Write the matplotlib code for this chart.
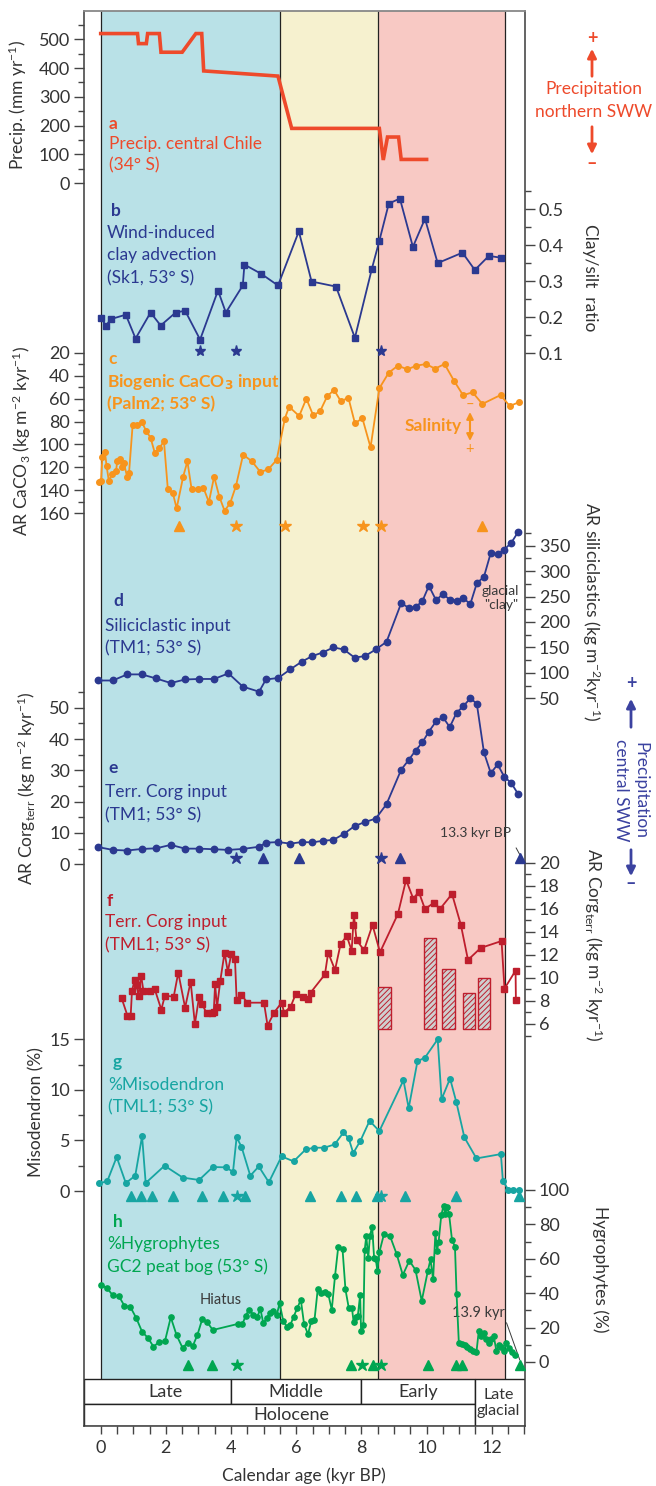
import numpy as np
import matplotlib
matplotlib.use("Agg")
import matplotlib.pyplot as plt
from matplotlib.patches import Rectangle

plt.rcParams['font.family'] = ['Lato', 'DejaVu Sans']
plt.rcParams['mathtext.default'] = 'regular'
plt.rcParams['hatch.linewidth'] = 0.7

# ---------------- data (ages in kyr BP) ----------------
# a  precipitation central Chile
a_age = [0.0, 1.13, 1.16, 1.40, 1.44, 1.80, 1.85, 2.50, 2.92, 3.10, 3.16, 5.44, 5.86,
         8.55, 8.67, 8.80, 9.14, 9.22, 10.0]
a_precip = [520, 520, 485, 485, 520, 520, 455, 455, 520, 520, 390, 372, 190,
            190, 80, 160, 160, 82, 82]

# b  clay/silt ratio Sk1
b_age = [0.0, 0.16, 0.32, 0.77, 1.07, 1.53, 1.84, 2.30, 2.59, 3.05, 3.60, 3.84, 4.36, 4.41,
         4.93, 5.44, 6.08, 6.47, 7.22, 7.80, 8.32, 8.55, 8.84, 9.18, 9.58, 9.95, 10.34,
         11.10, 11.48, 11.91, 12.28]
b_ratio = [0.199, 0.177, 0.195, 0.207, 0.141, 0.213, 0.177, 0.213, 0.218, 0.138, 0.274,
           0.213, 0.288, 0.346, 0.320, 0.288, 0.438, 0.299, 0.285, 0.143, 0.334, 0.412,
           0.515, 0.529, 0.395, 0.473, 0.350, 0.379, 0.331, 0.370, 0.365]
b_star_age = [3.05, 4.15, 8.59]

# c  biogenic CaCO3 Palm2
c_age = [-0.06, 0.01, 0.05, 0.13, 0.18, 0.25, 0.34, 0.47, 0.51, 0.59, 0.65, 0.71, 0.81,
         0.87, 0.98, 1.12, 1.27, 1.39, 1.53, 1.66, 1.80, 1.94, 2.06, 2.21, 2.33, 2.53,
         2.66, 2.79, 2.99, 3.15, 3.32, 3.48, 3.64, 3.80, 3.97, 4.15, 4.37, 4.64, 4.90,
         5.14, 5.40, 5.65, 5.78, 6.09, 6.31, 6.52, 6.73, 6.95, 7.16, 7.37, 7.60, 7.80,
         8.03, 8.28, 8.55, 8.84, 9.12, 9.41, 9.69, 9.98, 10.26, 10.55, 10.84, 11.12,
         11.41, 11.71, 12.27, 12.55, 12.83]
c_caco3 = [132.5, 131.9, 110.9, 106.6, 118.5, 131.9, 126, 123.1, 114.2, 112.4, 119.9,
           115.9, 128.1, 124.6, 83, 83, 80.7, 88, 94.1, 107.4, 103.4, 97, 139.1, 142,
           155.7, 128.1, 114.7, 139.1, 139.1, 137.7, 150.2, 128.1, 145.5, 157.7, 151.3,
           136.2, 108.9, 114.7, 124, 121.7, 113.5, 77.5, 67.1, 75.2, 60.1, 74.6, 71.1,
           58, 52.5, 62.4, 59.2, 81.5, 77.2, 102.5, 51, 37.4, 31.3, 34.5, 31.3, 29.9,
           33.9, 29.9, 44.4, 57.1, 54.5, 64.7, 56.9, 66.5, 63.2]
c_tri_age = [2.40, 11.69]
c_star_age = [4.15, 5.65, 8.06, 8.59]

# d, e  TM1 siliciclastics and terrestrial Corg
tm1_age = [-0.08, 0.37, 0.81, 1.26, 1.70, 2.15, 2.59, 3.02, 3.48, 3.92, 4.36, 4.86, 5.07,
           5.45, 5.82, 6.17, 6.49, 6.81, 7.14, 7.46, 7.79, 8.11, 8.44, 8.77, 9.22, 9.45,
           9.66, 9.87, 10.07, 10.29, 10.50, 10.71, 10.92, 11.13, 11.34, 11.54, 11.76,
           11.97, 12.18, 12.38, 12.60, 12.81]
d_silic = [85, 85, 97, 97, 89, 80, 87, 88, 88, 99, 73, 63, 87, 90, 107, 122, 133, 140,
           150, 146, 130, 133, 146, 161, 237, 228, 229, 241, 271, 243, 255, 244, 242,
           247, 235, 276, 289, 336, 333, 342, 356, 377]
e_corg = [5.5, 4.6, 4.4, 4.9, 5.1, 6.2, 5.0, 5.0, 4.8, 4.6, 4.9, 5.6, 6.9, 7.1, 6.6,
          7.1, 7.0, 7.5, 7.8, 9.7, 12.2, 13.5, 14.6, 19.2, 30.2, 33.3, 36.3, 38.9, 42.4,
          45.6, 47.0, 43.8, 48.4, 50.5, 53.0, 51.3, 35.7, 29.1, 31.9, 28.0, 25.9, 22.4]
e_star_age = [4.15, 8.59]
e_tri_age = [4.97, 6.08, 9.18, 12.88]

# f  TML1 terrestrial Corg
f_age = [0.64, 0.82, 0.92, 0.96, 1.04, 1.10, 1.16, 1.24, 1.31, 1.51, 1.66, 1.86, 1.97,
         2.24, 2.38, 2.59, 2.76, 2.89, 3.02, 3.11, 3.25, 3.41, 3.47, 3.51, 3.57, 3.67,
         3.80, 3.90, 4.01, 4.12, 4.17, 4.32, 4.50, 5.01, 5.12, 5.32, 5.55, 5.63, 5.83,
         5.98, 6.21, 6.37, 6.44, 6.88, 6.98, 7.19, 7.36, 7.55, 7.70, 7.75, 7.77, 7.85,
         8.08, 8.34, 8.57, 9.12, 9.37, 9.59, 9.76, 9.95, 10.23, 10.41, 10.78, 11.05,
         11.27, 11.66, 12.30, 12.39, 12.73, 12.74]
f_corg = [8.26, 6.73, 6.73, 8.87, 9.82, 9.36, 8.46, 10.2, 8.90, 8.87, 9.0, 7.25, 8.46,
          8.37, 10.46, 7.42, 9.67, 6.0, 8.37, 7.74, 6.93, 6.93, 7.07, 9.47, 7.45, 9.76,
          12.19, 10.54, 12.1, 11.67, 8.11, 8.52, 7.85, 7.85, 5.86, 6.99, 7.85, 6.99,
          7.51, 8.58, 8.32, 8.2, 8.72, 10.3, 12.19, 10.69, 12.92, 13.64, 12.37, 14.6,
          15.46, 13.3, 12.40, 14.6, 12.22, 15.55, 18.5, 16.88, 17.46, 15.98, 16.53,
          15.98, 17.28, 14.62, 11.56, 12.6, 13.2, 9.07, 10.63, 8.11]
f_bar_age = [8.71, 10.10, 10.67, 11.31, 11.77]
f_bar_top = [9.19, 13.44, 10.75, 8.67, 9.97]
f_bar_base = 5.6

# g  %Misodendron TML1
g_age = [-0.06, 0.20, 0.49, 0.77, 1.06, 1.27, 1.38, 1.96, 2.52, 3.02, 3.44, 3.83, 4.06,
         4.17, 4.32, 4.59, 4.85, 5.16, 5.55, 5.92, 6.29, 6.56, 6.86, 7.18, 7.45, 7.61,
         7.75, 7.97, 8.25, 8.55, 9.29, 9.45, 9.72, 9.95, 10.34, 10.46, 10.72, 10.91,
         11.16, 11.53, 12.28, 12.34, 12.51, 12.66, 12.83]
g_miso = [0.76, 0.95, 3.36, 0.79, 1.51, 5.43, 0.79, 2.5, 1.32, 1.09, 2.37, 2.34, 1.91,
          5.30, 4.38, 1.51, 2.43, 0.86, 3.42, 2.93, 4.11, 4.28, 4.28, 4.61, 5.79, 5.20,
          3.75, 4.97, 6.94, 5.92, 10.95, 8.19, 12.83, 13.19, 15.0, 9.08, 11.12, 8.82,
          5.30, 3.22, 3.65, 1.02, 0.1, 0.1, 0.1]
g_tri_age = [0.92, 1.23, 1.57, 2.21, 3.12, 3.74, 4.44, 6.42, 7.36, 7.83, 8.48, 9.34,
             10.91, 12.84]
g_star_age = [4.17, 8.60]

# h  %Hygrophytes GC2
h_age = [0.01, 0.20, 0.37, 0.56, 0.73, 0.91, 1.09, 1.27, 1.45, 1.62, 1.79, 1.97, 2.15,
         2.33, 2.51, 2.67, 2.83, 2.97, 3.12, 3.27, 3.44, 4.20, 4.35, 4.45, 4.55, 4.68,
         4.80, 4.90, 4.99, 5.09, 5.19, 5.30, 5.40, 5.49, 5.60, 5.71, 5.82, 5.92, 6.03,
         6.14, 6.24, 6.36, 6.46, 6.56, 6.66, 6.77, 6.87, 6.98, 7.09, 7.19, 7.29, 7.42,
         7.51, 7.61, 7.71, 7.76, 7.83, 7.89, 7.96, 7.99, 8.06, 8.10, 8.15, 8.21, 8.26,
         8.33, 8.39, 8.44, 8.49, 8.55, 8.69, 8.88, 9.08, 9.27, 9.47, 9.66, 9.85, 10.04,
         10.12, 10.20, 10.27, 10.32, 10.37, 10.45, 10.52, 10.57, 10.63, 10.69, 10.78,
         10.87, 10.92, 10.99, 11.08, 11.17, 11.24, 11.33, 11.42, 11.53, 11.60, 11.68,
         11.76, 11.83, 11.91, 11.99, 12.06, 12.14, 12.22, 12.29, 12.37, 12.45, 12.52,
         12.61, 12.71]
h_hygro = [45.0, 42.8, 38.8, 38.2, 32.6, 32.0, 25.6, 17.6, 14.0, 8.9, 11.6, 12.0, 26.0,
           15.5, 8.3, 11.2, 9.5, 15.9, 25.2, 23.1, 18.6, 22.1, 22.1, 26.9, 30.4, 27.5,
           26.0, 30.8, 22.5, 25.4, 28.3, 29.8, 27.3, 34.1, 24.0, 20.5, 21.5, 26.4, 31.2,
           36.2, 22.1, 16.1, 23.6, 24.4, 42.4, 39.9, 40.7, 39.7, 30.4, 50.0, 67.1, 65.7,
           42.2, 31.6, 31.2, 23.4, 26.4, 26.9, 39.0, 18.0, 21.5, 65.1, 73.3, 60.3, 73.3,
           78.7, 60.3, 59.7, 53.1, 63.8, 74.2, 73.1, 62.8, 50.6, 58.9, 53.5, 35.5, 53.1,
           59.7, 48.1, 75.2, 64.7, 70.0, 85.3, 90.9, 86.2, 89.9, 85.9, 70.9, 67.1, 39.5,
           10.9, 10.3, 9.7, 8.9, 7.6, 6.4, 5.8, 18.0, 15.1, 16.7, 13.6, 10.9, 13.6, 15.1,
           6.6, 9.7, 8.9, 6.6, 10.9, 7.9, 6.0, 4.1]
h_tri_age = [2.67, 3.43, 7.68, 8.35, 10.04, 10.91, 11.09, 12.86]
h_star_age = [4.17, 8.03, 8.60]

# climate zones and chronology boxes
zone_start = [0.0, 5.5, 8.5]
zone_end = [5.5, 8.5, 12.4]
zone_colors = ['#b9e1e7', '#f6f1cf', '#f8c9c4']
epoch_names = ['Late', 'Middle', 'Early']
epoch_edges = [4.0, 8.0, 11.5]

# ---------------- layout (pixels of the 656x1486 image) ----------------
W, H = 656, 1486
TOP, BOT, LEFT, RIGHT = 11, 1426, 84, 525
X0, PXK = 100.7, 32.59
XLIM = ((LEFT - X0) / PXK, (RIGHT - X0) / PXK)
POS = [LEFT / W, 1 - BOT / H, (RIGHT - LEFT) / W, (BOT - TOP) / H]

TXT = '#333333'
FS = 12.5
fig = plt.figure(figsize=(W / 100, H / 100), dpi=100)

main = fig.add_axes(POS)
main.set_xlim(XLIM)
main.set_ylim(BOT, TOP)
main.set_facecolor('none')
for s in ['left', 'right', 'bottom']:
    main.spines[s].set_color('#3a3a3a')
    main.spines[s].set_linewidth(1.1)
main.spines['top'].set_color('#888888')
main.spines['top'].set_linewidth(1.3)
main.set_yticks([])
main.set_xticks(np.arange(0, 13, 2))
main.set_xticks(np.arange(0, 13.01, 0.5), minor=True)
main.tick_params(axis='x', which='both', direction='out', length=6, width=1,
                 color='#444444', labelsize=13, labelcolor=TXT, pad=4)

# coloured climate zones
for x0, x1, c in zip(zone_start, zone_end, zone_colors):
    main.add_patch(Rectangle((x0, TOP), x1 - x0, 1379 - TOP, facecolor=c,
                             edgecolor='none', zorder=0))
main.vlines(zone_start + [zone_end[-1]], TOP, 1379, color='#222222', lw=0.9, zorder=1)

# chronology boxes
edges = [XLIM[0]] + epoch_edges
for i, name in enumerate(epoch_names):
    main.add_patch(Rectangle((edges[i], 1379), edges[i + 1] - edges[i], 25,
                             facecolor='white', edgecolor='#222222', lw=1, zorder=2))
    main.text((edges[i] + edges[i + 1]) / 2 + (0.25 if i == 0 else 0), 1392, name,
              ha='center', va='center', fontsize=13, color=TXT, zorder=3)
main.add_patch(Rectangle((XLIM[0], 1404), epoch_edges[-1] - XLIM[0], BOT - 1404,
                         facecolor='white', edgecolor='#222222', lw=1, zorder=2))
main.text(5.85, 1415, 'Holocene', ha='center', va='center', fontsize=13, color=TXT, zorder=3)
main.add_patch(Rectangle((epoch_edges[-1], 1379), XLIM[1] - epoch_edges[-1], BOT - 1379,
                         facecolor='white', edgecolor='#222222', lw=1, zorder=2))
main.text(12.2, 1403, 'Late\nglacial', ha='center', va='center', fontsize=11.5,
          color=TXT, linespacing=1.2, zorder=3)


def panel(v1, p1, v2, p2, side, major, minor, labels=None):
    ax = fig.add_axes(POS)
    ax.set_facecolor('none')
    for s in ax.spines.values():
        s.set_visible(False)
    k = (p2 - p1) / (v2 - v1)
    ax.set_ylim(v1 + (BOT - p1) / k, v1 + (TOP - p1) / k)
    ax.set_xlim(XLIM)
    ax.set_xticks([])
    ax.yaxis.set_ticks_position(side)
    ax.set_yticks(major, labels=labels)
    ax.set_yticks(minor, minor=True)
    ax.tick_params(axis='y', which='major', direction='out', length=7, width=1,
                   color='#444444', labelsize=13, labelcolor=TXT, pad=3)
    ax.tick_params(axis='y', which='minor', direction='out', length=4.5, width=1,
                   color='#444444')
    return ax


def txt(px, py, s, color, size=FS, bold=False, **kw):
    main.text((px - X0) / PXK, py, s, color=color, fontsize=size,
              fontweight='bold' if bold else 'normal', va='center', zorder=5, **kw)


def ftxt(px, py, s, color, size=FS, **kw):
    fig.text(px / W, 1 - py / H, s, color=color, fontsize=size, ha='center',
             va='center', **kw)


def farrow(px, py0, py1, color):
    fig.add_artist(matplotlib.patches.FancyArrowPatch(
        (px / W, 1 - py0 / H), (px / W, 1 - py1 / H), transform=fig.transFigure,
        arrowstyle='-|>', mutation_scale=13, color=color, lw=2))


RED, NAVY, ORANGE = '#ee4a2b', '#2b3990', '#f7941d'
DRED, TEAL, GREEN = '#be1e2d', '#17a5a2', '#00a651'

# a
ax_a = panel(0, 183, 500, 39.3, 'left', range(0, 501, 100), range(50, 551, 100))
ax_a.plot(a_age, a_precip, color=RED, lw=2.6, solid_joinstyle='miter')
txt(109, 124, 'a', RED, bold=True)
txt(109, 143.5, 'Precip. central Chile', RED)
txt(109, 165.5, '(34° S)', RED)

# b
ax_b = panel(0.1, 353.3, 0.5, 209, 'right', [0.1, 0.2, 0.3, 0.4, 0.5],
             [0.15, 0.25, 0.35, 0.45, 0.55], ['0.1', '0.2', '0.3', '0.4', '0.5'])
ax_b.plot(b_age, b_ratio, '-s', color=NAVY, ms=4.8, lw=1.3)
ax_b.plot(b_star_age, [0.106] * len(b_star_age), '*', color=NAVY, ms=8, ls='none')
txt(111, 211.5, 'b', NAVY, bold=True)
txt(107, 232.5, 'Wind-induced', NAVY)
txt(107, 255, 'clay advection', NAVY)
txt(107, 278, '(Sk1, 53° S)', NAVY)

# c
ax_c = panel(20, 352.7, 160, 513.3, 'left', range(20, 161, 20), range(30, 151, 20))
ax_c.plot(c_age, c_caco3, '-o', color=ORANGE, ms=4, lw=1.3)
ax_c.plot(c_tri_age, [171] * len(c_tri_age), '^', color=ORANGE, ms=7, ls='none')
ax_c.plot(c_star_age, [171] * len(c_star_age), '*', color=ORANGE, ms=9, ls='none')
txt(108, 359, 'c', ORANGE, bold=True)
txt(107, 381.5, 'Biogenic CaCO$_\\mathbf{3}$ input', ORANGE, bold=True)
txt(107, 404, '(Palm2; 53° S)', ORANGE, bold=True)
txt(433, 426, 'Salinity', ORANGE, bold=True, ha='center')
main.annotate('', xy=((470 - X0) / PXK, 412), xytext=((470 - X0) / PXK, 441),
              arrowprops=dict(arrowstyle='<|-|>', color=ORANGE, lw=1.5,
                              mutation_scale=10, shrinkA=0, shrinkB=0), zorder=5)
txt(470, 405, '–', ORANGE, size=10.5, ha='center')
txt(470, 449, '+', ORANGE, size=10.5, ha='center')

# d
ax_d = panel(50, 698.3, 350, 545.7, 'right', range(50, 351, 50), range(75, 376, 50))
ax_d.plot(tm1_age, d_silic, '-o', color=NAVY, ms=4.6, lw=1.3)
txt(113, 601, 'd', NAVY, bold=True)
txt(105, 626, 'Siliciclastic input', NAVY)
txt(105, 648, '(TM1; 53° S)', NAVY)
main.text((500.7 - X0) / PXK, 598, 'glacial\n"clay"', ha='center', va='center',
          fontsize=10, color='#3a3a3a', linespacing=1.15, zorder=5)

# e
ax_e = panel(0, 864.3, 50, 707.7, 'left', range(0, 51, 10), range(5, 56, 10))
ax_e.plot(tm1_age, e_corg, '-o', color=NAVY, ms=4.6, lw=1.3)
ax_e.plot(e_star_age, [2.1] * len(e_star_age), '*', color=NAVY, ms=9, ls='none',
          clip_on=False)
ax_e.plot(e_tri_age, [2.1] * len(e_tri_age), '^', color=NAVY, ms=7, ls='none',
          clip_on=False)
txt(108, 768, 'e', NAVY, bold=True)
txt(105, 792.5, 'Terr. Corg input', NAVY)
txt(105, 815, '(TM1; 53° S)', NAVY)
main.annotate('13.3 kyr BP', xy=((520 - X0) / PXK, 855), xytext=((476 - X0) / PXK, 833),
              ha='center', va='center', fontsize=10, color='#3a3a3a', zorder=5,
              arrowprops=dict(arrowstyle='-', color='#3a3a3a', lw=0.7,
                              shrinkA=5, shrinkB=0,
                              relpos=(0.95, 0.5)))

# f
ax_f = panel(6, 1024, 18, 885.7, 'right', range(6, 21, 2), range(5, 20, 2))
ax_f.bar(f_bar_age, np.array(f_bar_top) - f_bar_base, bottom=f_bar_base, width=0.38,
         facecolor='#cfcfcf', edgecolor=DRED, hatch='//////', lw=1, zorder=2)
ax_f.plot(f_age, f_corg, '-s', color=DRED, ms=4.6, lw=1.3, zorder=3)
txt(107, 901.5, 'f', DRED, bold=True)
txt(105, 922.5, 'Terr. Corg input', DRED)
txt(105, 945, '(TML1; 53° S)', DRED)

# g
ax_g = panel(0, 1191, 15, 1039.3, 'left', [0, 5, 10, 15], [2.5, 7.5, 12.5])
ax_g.plot(g_age, g_miso, '-o', color=TEAL, ms=4, lw=1.3)
ax_g.plot(g_tri_age, [-0.46] * len(g_tri_age), '^', color=TEAL, ms=7, ls='none',
          clip_on=False)
ax_g.plot(g_star_age, [-0.46] * len(g_star_age), '*', color=TEAL, ms=9, ls='none')
txt(113, 1062.5, 'g', TEAL, bold=True)
txt(108, 1085, '%Misodendron', TEAL)
txt(108, 1107.5, '(TML1; 53° S)', TEAL)

# h
ax_h = panel(0, 1362, 100, 1190, 'right', range(0, 101, 20), range(10, 91, 20))
ax_h.plot(h_age, h_hygro, '-o', color=GREEN, ms=3.8, lw=1.3)
ax_h.plot(h_tri_age, [-1.7] * len(h_tri_age), '^', color=GREEN, ms=7, ls='none',
          clip_on=False)
ax_h.plot(h_star_age, [-1.7] * len(h_star_age), '*', color=GREEN, ms=9, ls='none')
txt(113, 1222, 'h', GREEN, bold=True)
txt(107, 1244.5, '%Hygrophytes', GREEN)
txt(107, 1267, 'GC2 peat bog (53° S)', GREEN)
main.text(3.67, 1300.5, 'Hiatus', ha='center', va='center', fontsize=10.5,
          color='#3a3a3a', zorder=5)
main.annotate('13.9 kyr', xy=(12.86, 1360), xytext=(11.58, 1313), ha='center',
              va='center', fontsize=10.5, color='#3a3a3a', zorder=5,
              arrowprops=dict(arrowstyle='-', color='#3a3a3a', lw=0.7,
                              shrinkA=0, shrinkB=0, relpos=(1.0, 0.2)))

# axis labels (left / right)
ftxt(18, 105, 'Precip. (mm yr$^{-1}$)', TXT, rotation=90)
ftxt(22, 441, 'AR CaCO$_3$ (kg m$^{-2}$ kyr$^{-1}$)', TXT, rotation=90)
ftxt(27, 788, 'AR Corg$_{terr}$ (kg m$^{-2}$ kyr$^{-1}$)', TXT, rotation=90)
ftxt(36, 1112, 'Misodendron (%)', TXT, rotation=90)
ftxt(590, 278, 'Clay/silt  ratio', TXT, rotation=270)
ftxt(591, 612, 'AR siliciclastics (kg m$^{-2}$kyr$^{-1}$)', TXT, rotation=270)
ftxt(593, 945, 'AR Corg$_{terr}$ (kg m$^{-2}$ kyr$^{-1}$)', TXT, rotation=270)
ftxt(600, 1269, 'Hygrophytes (%)', TXT, rotation=270)
ftxt(304, 1476, 'Calendar age (kyr BP)', TXT)

# side annotations
ftxt(592, 38, '+', RED, size=13, fontweight='bold')
farrow(592, 79, 46, RED)
ftxt(594, 89, 'Precipitation', RED)
ftxt(594, 112, 'northern SWW', RED)
farrow(592, 124, 157, RED)
ftxt(592, 163, '–', RED, size=13, fontweight='bold')

PURP = '#3b42a0'
ftxt(631, 684, '+', PURP, size=13, fontweight='bold')
farrow(631, 730, 696, PURP)
ftxt(631, 790, 'Precipitation\ncentral SWW', PURP, rotation=270, linespacing=1.25)
farrow(631, 847, 879, PURP)
ftxt(631, 884, '–', PURP, size=13, fontweight='bold')

fig.savefig('out.png', dpi=100)
